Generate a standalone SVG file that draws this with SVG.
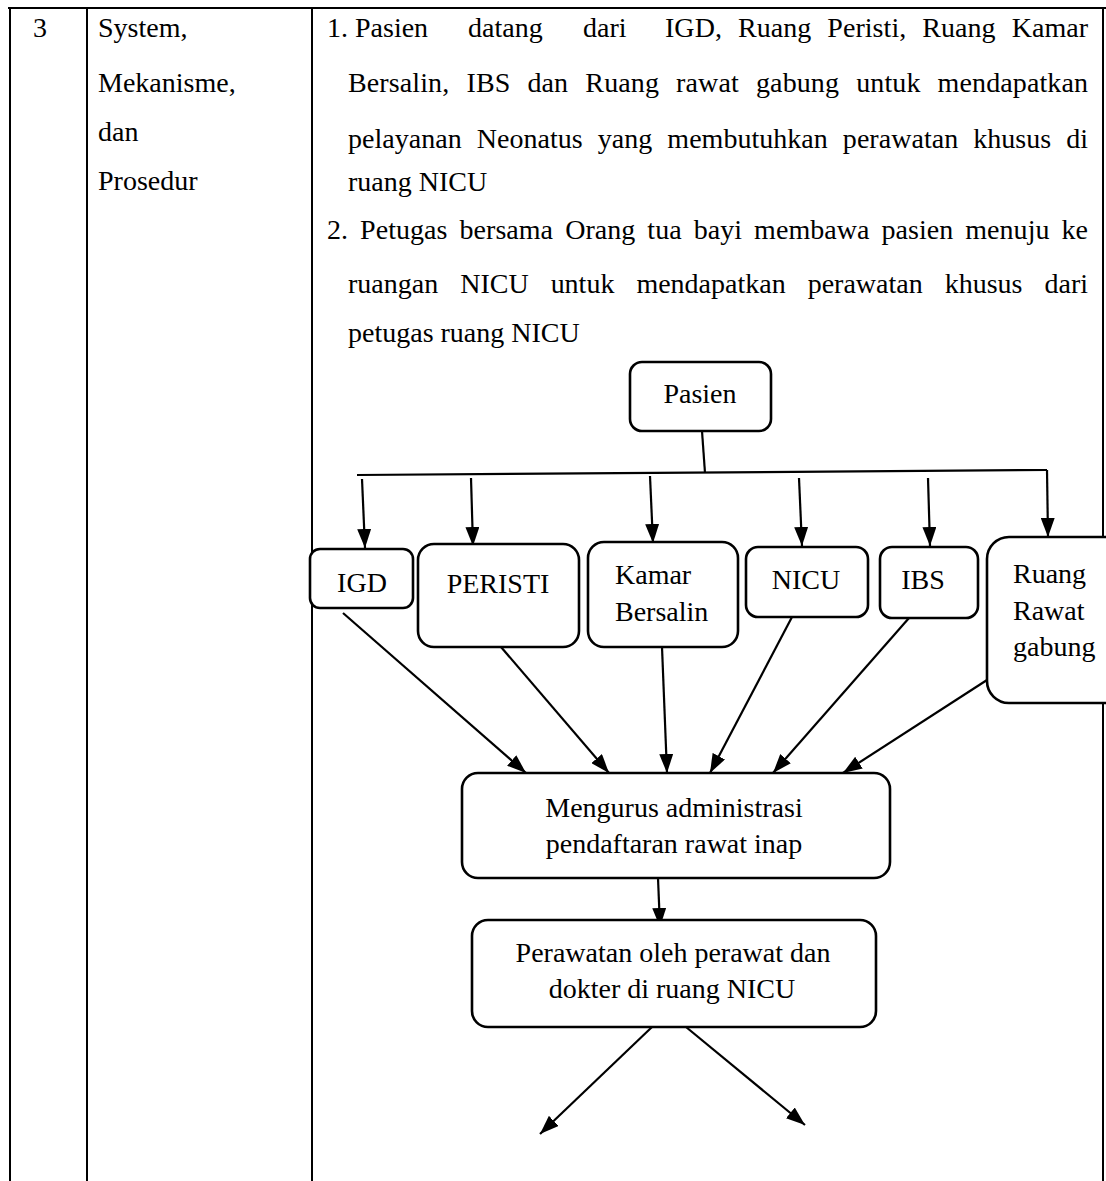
<svg xmlns="http://www.w3.org/2000/svg" width="1106" height="1181" viewBox="0 0 1106 1181">
  <style>
    text { font-family: "Liberation Serif", "Times New Roman", serif; font-size: 28px; fill: #000; }
    .grid { stroke: #000; stroke-width: 2; fill: none; }
    .box { fill: #fff; stroke: #000; stroke-width: 2.6; }
    .link { stroke: #000; stroke-width: 2.2; fill: none; }
    .mid { text-anchor: middle; }
  </style>
  <defs>
    <marker id="head" markerUnits="userSpaceOnUse" markerWidth="20" markerHeight="14" refX="19" refY="7" orient="auto">
      <path d="M0,0 L19,7 L0,14 z" fill="#000"/>
    </marker>
  </defs>

  <rect width="1106" height="1181" fill="#fff"/>

  <!-- table grid -->
  <g id="table">
    <line class="grid" x1="8" y1="8" x2="1106" y2="8"/>
    <line class="grid" x1="10" y1="8" x2="10" y2="1181"/>
    <line class="grid" x1="87" y1="8" x2="87" y2="1181"/>
    <line class="grid" x1="312" y1="8" x2="312" y2="1181"/>
    <line class="grid" x1="1103" y1="8" x2="1103" y2="1181"/>
  </g>

  <!-- table texts -->
  <g id="row-number">
    <text x="40" y="37" class="mid">3</text>
  </g>
  <g id="row-title">
    <text x="98" y="37">System,</text>
    <text x="98" y="92">Mekanisme,</text>
    <text x="98" y="141">dan</text>
    <text x="98" y="190">Prosedur</text>
  </g>
  <g id="row-body">
    <text x="327" y="37">1. Pasien</text>
    <text x="468" y="37">datang</text>
    <text x="583" y="37">dari</text>
    <text x="665" y="37" textLength="423" lengthAdjust="spacing" word-spacing="9">IGD, Ruang Peristi, Ruang Kamar</text>
    <text x="348" y="92" textLength="740" lengthAdjust="spacing" word-spacing="10">Bersalin, IBS dan Ruang rawat gabung untuk mendapatkan</text>
    <text x="348" y="148" textLength="740" lengthAdjust="spacing" word-spacing="8">pelayanan Neonatus yang membutuhkan perawatan khusus di</text>
    <text x="348" y="191">ruang NICU</text>
    <text x="327" y="239" textLength="761" lengthAdjust="spacing" word-spacing="5">2. Petugas bersama Orang tua bayi membawa pasien menuju ke</text>
    <text x="348" y="293" textLength="740" lengthAdjust="spacing" word-spacing="15">ruangan NICU untuk mendapatkan perawatan khusus dari</text>
    <text x="348" y="342">petugas ruang NICU</text>
  </g>

  <!-- connectors -->
  <g id="connectors">
    <!-- Pasien to distribution bar -->
    <line class="link" x1="702" y1="431" x2="705" y2="473"/>
    <line class="link" x1="357" y1="475" x2="1047" y2="470"/>
    <!-- bar to the six units -->
    <line class="link" x1="362" y1="479" x2="365" y2="548" marker-end="url(#head)"/>
    <line class="link" x1="471" y1="478" x2="473" y2="546" marker-end="url(#head)"/>
    <line class="link" x1="650" y1="476" x2="653" y2="543" marker-end="url(#head)"/>
    <line class="link" x1="799" y1="478" x2="802" y2="546" marker-end="url(#head)"/>
    <line class="link" x1="928" y1="478" x2="930" y2="546" marker-end="url(#head)"/>
    <line class="link" x1="1047" y1="470" x2="1048" y2="537" marker-end="url(#head)"/>
    <!-- units to administration -->
    <line class="link" x1="343" y1="613" x2="526" y2="773" marker-end="url(#head)"/>
    <line class="link" x1="501" y1="647" x2="609" y2="773" marker-end="url(#head)"/>
    <line class="link" x1="662" y1="647" x2="667" y2="773" marker-end="url(#head)"/>
    <line class="link" x1="792" y1="617" x2="710" y2="773" marker-end="url(#head)"/>
    <line class="link" x1="909" y1="618" x2="773" y2="773" marker-end="url(#head)"/>
    <line class="link" x1="987" y1="680" x2="843" y2="773" marker-end="url(#head)"/>
    <!-- administration to care -->
    <line class="link" x1="658" y1="878" x2="660" y2="927" marker-end="url(#head)"/>
    <!-- outgoing from care -->
    <line class="link" x1="652" y1="1027" x2="540" y2="1134" marker-end="url(#head)"/>
    <line class="link" x1="686" y1="1027" x2="805" y2="1125" marker-end="url(#head)"/>
  </g>

  <!-- nodes -->
  <g id="node-pasien">
    <rect class="box" x="630" y="362" width="141" height="69" rx="12"/>
    <text x="700" y="403" class="mid">Pasien</text>
  </g>
  <g id="node-igd">
    <rect class="box" x="310" y="549" width="103" height="59" rx="10"/>
    <text x="362" y="592" class="mid">IGD</text>
  </g>
  <g id="node-peristi">
    <rect class="box" x="418" y="544" width="161" height="103" rx="16"/>
    <text x="498" y="593" class="mid">PERISTI</text>
  </g>
  <g id="node-kamar">
    <rect class="box" x="588" y="542" width="150" height="105" rx="16"/>
    <text x="615" y="584">Kamar</text>
    <text x="615" y="621">Bersalin</text>
  </g>
  <g id="node-nicu">
    <rect class="box" x="746" y="547" width="122" height="70" rx="12"/>
    <text x="806" y="589" class="mid">NICU</text>
  </g>
  <g id="node-ibs">
    <rect class="box" x="880" y="547" width="98" height="71" rx="12"/>
    <text x="923" y="589" class="mid">IBS</text>
  </g>
  <g id="node-ruang">
    <rect class="box" x="987" y="537" width="140" height="166" rx="22"/>
    <text x="1013" y="583">Ruang</text>
    <text x="1013" y="620">Rawat</text>
    <text x="1013" y="656">gabung</text>
  </g>
  <g id="node-admin">
    <rect class="box" x="462" y="773" width="428" height="105" rx="16"/>
    <text x="674" y="817" class="mid">Mengurus administrasi</text>
    <text x="674" y="853" class="mid">pendaftaran rawat inap</text>
  </g>
  <g id="node-care">
    <rect class="box" x="472" y="920" width="404" height="107" rx="16"/>
    <text x="673" y="962" class="mid">Perawatan oleh perawat dan</text>
    <text x="672" y="998" class="mid">dokter di ruang NICU</text>
  </g>
</svg>
